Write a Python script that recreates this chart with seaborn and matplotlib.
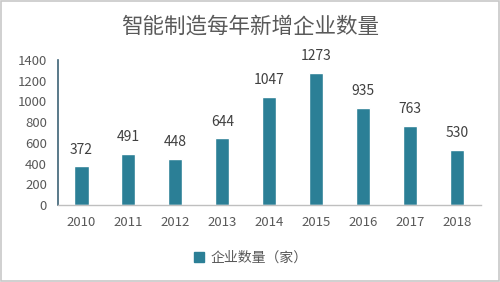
import matplotlib
matplotlib.use("Agg")
import matplotlib.pyplot as plt
import seaborn as sns
import pandas as pd
from matplotlib.patches import Rectangle
from matplotlib.lines import Line2D

years = ["2010", "2011", "2012", "2013", "2014", "2015", "2016", "2017", "2018"]
counts = [372, 491, 448, 644, 1047, 1273, 935, 763, 530]
yticks = [0, 200, 400, 600, 800, 1000, 1200, 1400]
title = "智能制造每年新增企业数量"
series_name = "企业数量（家）"

sns.set_theme(style="white")
plt.rcParams['font.family'] = ['Noto Sans CJK SC', 'DejaVu Sans']

df = pd.DataFrame({"year": years, "count": counts})
bar_color = "#2b7f96"
text_color = "#595959"

fig = plt.figure(figsize=(5, 2.82), dpi=100)
ax = fig.add_axes([0.116, 0.273, 0.845, 0.514])
sns.barplot(data=df, x="year", y="count", color=bar_color, width=0.3,
            saturation=1, ax=ax)
ax.set_xlim(-0.5, len(years) - 0.5)
ax.set_ylim(0, 1400)
ax.set_yticks(yticks)
ax.set_yticklabels([str(t) for t in yticks])
ax.set_xlabel("")
ax.set_ylabel("")
for s in ["top", "right"]:
    ax.spines[s].set_visible(False)
ax.spines["left"].set_color("#3d6276")
ax.spines["left"].set_linewidth(1.2)
ax.spines["bottom"].set_color("#bfbfbf")
ax.spines["bottom"].set_linewidth(1.0)
ax.tick_params(axis="y", direction="in", length=5, color="#3d6276", width=1.0,
               labelsize=9.5, labelcolor=text_color, pad=8)
ax.tick_params(axis="x", length=0, labelsize=9.5, labelcolor=text_color, pad=8)
for cont in ax.containers:
    ax.bar_label(cont, labels=[str(v) for v in counts], padding=7,
                 fontsize=10, color="#404040")

fig.text(0.5, 0.905, title, ha="center", va="center", fontsize=15.5,
         color=text_color)

handle = Line2D([], [], marker="s", linestyle="none", markersize=7,
                markerfacecolor=bar_color, markeredgecolor=bar_color)
fig.legend([handle], [series_name], loc="center", bbox_to_anchor=(0.5, 0.087),
           frameon=False, fontsize=10, labelcolor=text_color,
           handletextpad=0.3, handlelength=1.0)

fig.patches.append(Rectangle((0.002, 0.003), 0.996, 0.994, transform=fig.transFigure,
                             fill=False, edgecolor="#c8c8c8", linewidth=1.2))
fig.savefig("out.png", dpi=100)
